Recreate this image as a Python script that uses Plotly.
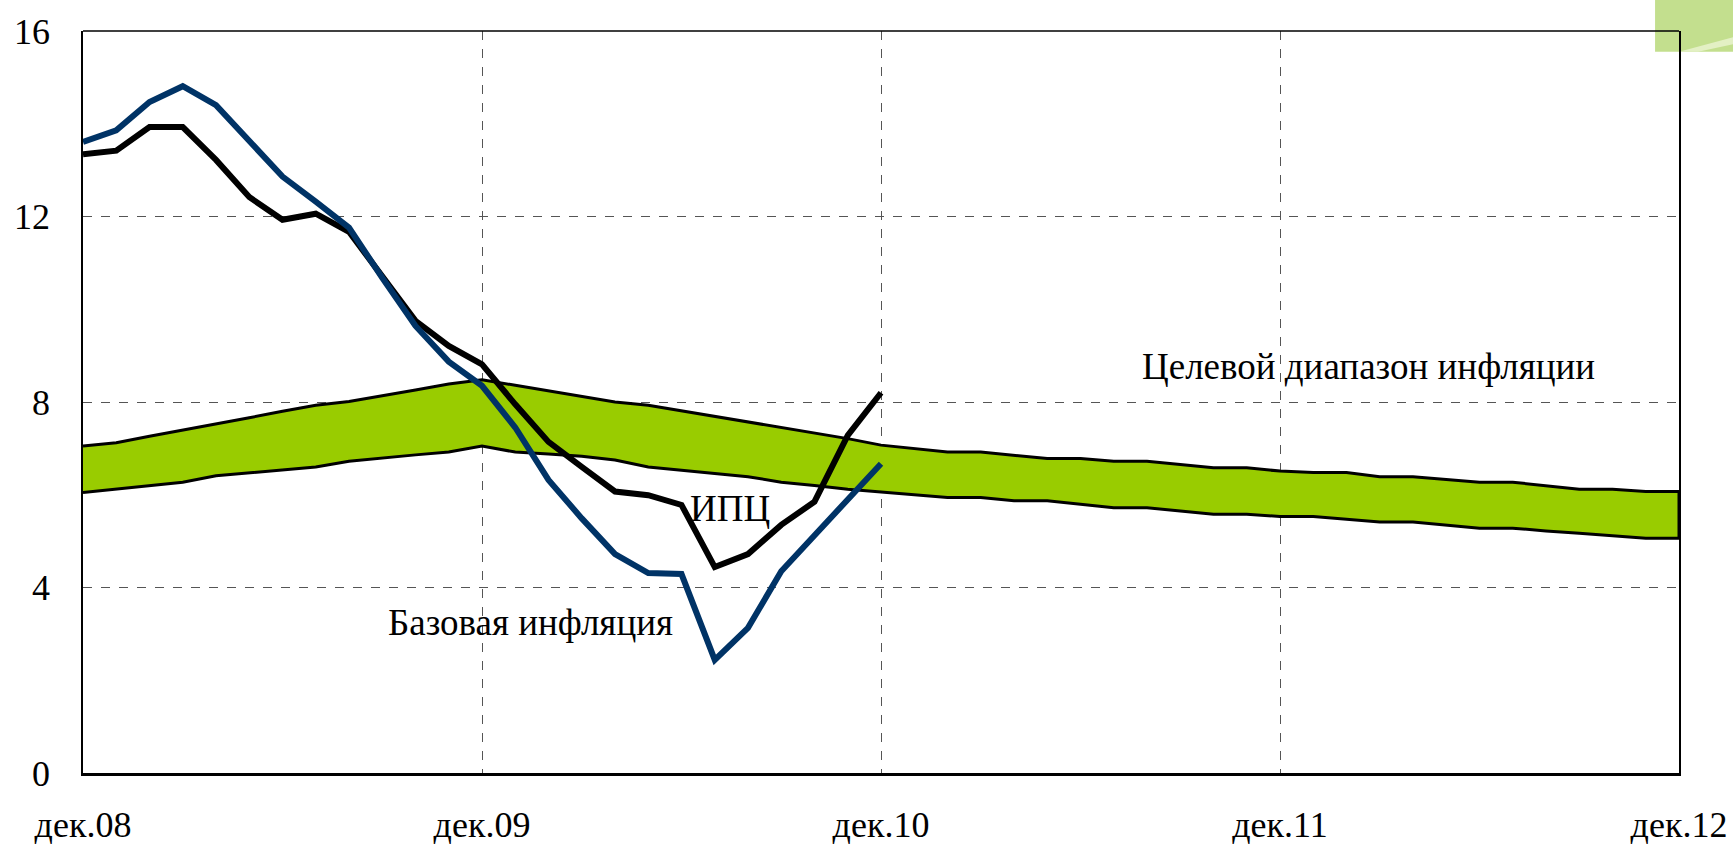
import plotly.graph_objects as go

# ---- data ----
month_abbr = ["янв", "фев", "мар", "апр", "май", "июн", "июл", "авг", "сен", "окт", "ноя", "дек"]
month_labels = ["дек.08"] + [f"{month_abbr[i % 12]}.{9 + i // 12:02d}" for i in range(48)]
x_idx = list(range(len(month_labels)))

target_upper = [7.05, 7.12, 7.26, 7.39, 7.53, 7.66, 7.80, 7.93, 8.01, 8.13, 8.26, 8.39, 8.48,
                8.36, 8.24, 8.12, 8.00, 7.93, 7.81, 7.69, 7.57, 7.45, 7.33, 7.21, 7.07,
                7.00, 6.92, 6.92, 6.85, 6.78, 6.78, 6.72, 6.72, 6.65, 6.58, 6.58, 6.51,
                6.48, 6.48, 6.39, 6.39, 6.33, 6.27, 6.27, 6.20, 6.12, 6.12, 6.07, 6.07]
target_lower = [6.05, 6.12, 6.20, 6.27, 6.41, 6.47, 6.54, 6.60, 6.72, 6.79, 6.86, 6.92, 7.05,
                6.92, 6.88, 6.83, 6.75, 6.60, 6.53, 6.46, 6.39, 6.27, 6.20, 6.12, 6.07,
                6.00, 5.94, 5.94, 5.87, 5.87, 5.80, 5.72, 5.72, 5.65, 5.58, 5.58, 5.53,
                5.53, 5.47, 5.41, 5.41, 5.35, 5.28, 5.28, 5.22, 5.17, 5.12, 5.06, 5.06]
cpi = [13.34, 13.42, 13.93, 13.93, 13.22, 12.42, 11.93, 12.06, 11.67, 10.70, 9.75, 9.21, 8.81,
       7.95, 7.14, 6.60, 6.07, 5.99, 5.78, 4.44, 4.72, 5.35, 5.85, 7.28, 8.20]
core = [13.61, 13.86, 14.47, 14.81, 14.40, 13.61, 12.86, 12.32, 11.76, 10.68, 9.64, 8.87, 8.35,
        7.45, 6.32, 5.49, 4.72, 4.31, 4.29, 2.44, 3.13, 4.35, 5.13, 5.92, 6.67]

tick_labels = ["дек.08", "дек.09", "дек.10", "дек.11", "дек.12"]
y_ticks = [0, 4, 8, 12, 16]

FONT = "Liberation Serif, Times New Roman, serif"

fig = go.Figure()

# target band polygon
fig.add_trace(go.Scatter(
    x=x_idx + x_idx[::-1],
    y=target_upper + target_lower[::-1],
    mode="lines", fill="toself", fillcolor="#99CC00",
    line=dict(color="black", width=3), hoverinfo="skip", showlegend=False))

fig.add_trace(go.Scatter(x=x_idx[:len(cpi)], y=cpi, mode="lines",
                         line=dict(color="black", width=6), showlegend=False))
fig.add_trace(go.Scatter(x=x_idx[:len(core)], y=core, mode="lines",
                         line=dict(color="#003366", width=6), showlegend=False))

tick_pos = [month_labels.index(t) for t in tick_labels]

fig.update_layout(
    width=1733, height=848,
    margin=dict(l=83, r=54, t=31, b=75, autoexpand=False),
    paper_bgcolor="white", plot_bgcolor="white",
    font=dict(family=FONT, color="black"),
    xaxis=dict(range=[0, 48], tickvals=tick_pos, ticktext=tick_labels,
               showgrid=True, gridcolor="#555555", griddash="dash", gridwidth=1,
               showline=True, linecolor="black", linewidth=3, mirror=False,
               ticks="", ticklabelstandoff=18, zeroline=False, automargin=False,
               tickfont=dict(family=FONT, size=36, color="black")),
    yaxis=dict(range=[0, 16], tickvals=y_ticks, ticktext=[str(v) for v in y_ticks],
               showgrid=True, gridcolor="#555555", griddash="dash", gridwidth=1,
               showline=True, linecolor="black", linewidth=1.5, mirror=True,
               ticks="", ticklabelstandoff=24, zeroline=False, automargin=False,
               tickfont=dict(family=FONT, size=36, color="black")),
    shapes=[
        dict(type="rect", xref="paper", yref="paper", x0=0.985, x1=1.04, y0=0.972, y1=1.05,
             fillcolor="#c3df8e", line=dict(width=0), layer="below"),
        dict(type="path", xref="paper", yref="paper",
             path="M 1.0 0.972 L 1.04 0.995 L 1.04 0.985 L 1.012 0.972 Z",
             fillcolor="#e3f0c4", line=dict(width=0), layer="below"),
        dict(type="line", xref="paper", yref="paper", x0=0, x1=1, y0=1, y1=1,
             line=dict(color="black", width=1.5)),
    ],
    annotations=[
        dict(x=38.65, y=8.76, text="Целевой диапазон инфляции", showarrow=False,
             font=dict(family=FONT, size=37, color="black")),
        dict(x=19.45, y=5.71, text="ИПЦ", showarrow=False,
             font=dict(family=FONT, size=37, color="black")),
        dict(x=13.45, y=3.24, text="Базовая инфляция", showarrow=False,
             font=dict(family=FONT, size=37, color="black")),
    ],
)

fig.write_html("out.html", config={"displayModeBar": False},
               post_script="document.body.style.margin='0';document.body.style.overflow='hidden';")
